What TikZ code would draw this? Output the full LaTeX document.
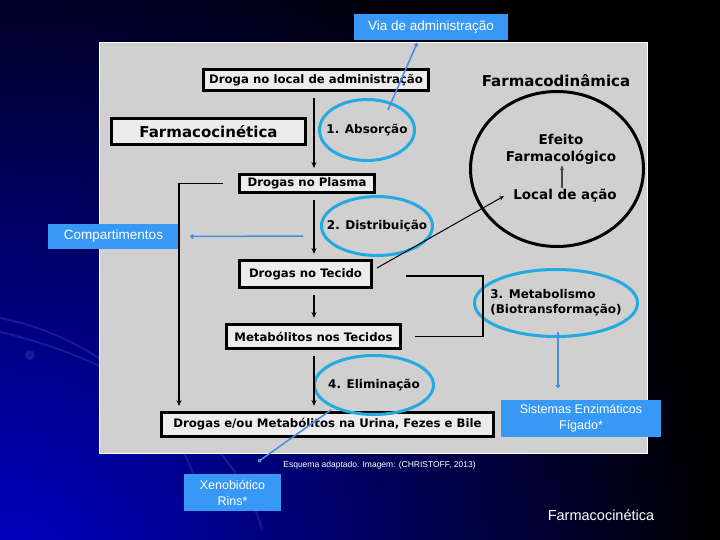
\documentclass[tikz,border=0pt]{standalone}
\usepackage{fontspec}
\setmainfont{DejaVu Sans}
\newfontfamily\labelfont{Liberation Sans}
\usetikzlibrary{shapes.geometric,arrows.meta}
\definecolor{panelgray}{RGB}{208,208,208}
\definecolor{boxgray}{RGB}{236,236,236}
\definecolor{labelblue}{RGB}{55,152,245}
\definecolor{ringblue}{RGB}{35,170,225}
\definecolor{linkblue}{RGB}{70,140,225}
\definecolor{deepblue}{RGB}{0,0,200}
\definecolor{swoosh}{RGB}{25,25,150}
\definecolor{inkgray}{RGB}{70,70,70}
\begin{document}
\begin{tikzpicture}[x=1pt, y=-1pt,
	box/.style={draw=black, fill=boxgray, line width=3pt, inner sep=0pt, font=\fontsize{11.7}{14}\selectfont\bfseries},
	ring/.style={ellipse, draw=ringblue, line width=3pt, inner sep=0pt},
	ringtext/.style={font=\fontsize{12}{15}\selectfont\bfseries, inner sep=0pt},
	tag/.style={fill=labelblue, text=white, inner sep=0pt, align=center, font=\labelfont\fontsize{13.5}{16}\selectfont},
	arr/.style={line width=1.5pt, -{Stealth[length=6pt,width=5pt]}, shorten <=6pt, shorten >=5pt},
	bracket/.style={line width=1.5pt},
	bluelink/.style={draw=linkblue, line width=1.5pt, {Circle[length=4pt]}-}]
	\useasboundingbox (0,0) rectangle (720,540);
	\fill[black] (0,0) rectangle (720,540);
	\begin{scope}
		\clip (0,0) rectangle (720,540);
		\shade[inner color=deepblue, outer color=black] (0,580) circle (720);
		\draw[swoosh, line width=2pt] (0,318) .. controls (110,340) and (185,420) .. (200,500);
		\draw[swoosh, line width=2pt] (0,332) .. controls (120,360) and (235,430) .. (262,530);
		\fill[swoosh] (30,355) circle (5);
	\end{scope}
	\draw[white, fill=panelgray, line width=1pt] (99,43) rectangle (647,453);

	\node[box, minimum width=225pt, minimum height=21pt] (droga)  at (316,80)      {Droga no local de administração};
	\node[box, minimum width=194pt, minimum height=26pt, font=\fontsize{15}{18}\selectfont\bfseries] (farma) at (208.5,131.5) {Farmacocinética};
	\node[box, minimum width=135pt, minimum height=18pt] (plasma) at (307,183.5)   {Drogas no Plasma};
	\node[box, minimum width=132pt, minimum height=27pt] (tecido) at (305.5,274)   {Drogas no Tecido};
	\node[box, minimum width=174pt, minimum height=24pt] (metab)  at (313.5,336.5) {Metabólitos nos Tecidos};
	\node[box, minimum width=332pt, minimum height=24pt] (final)  at (327.5,424.5) {Drogas e/ou Metabólitos na Urina, Fezes e Bile};

	\node[ring, minimum width=95pt,  minimum height=61pt, label={[ringtext]center:1. Absorção}]     (absorb)  at (367,130) {};
	\node[ring, minimum width=111pt, minimum height=59pt, label={[ringtext]center:2. Distribuição}] (distrib) at (377,226) {};
	\node[ring, minimum width=119pt, minimum height=59pt, label={[ringtext]center:4. Eliminação}]   (elimin)  at (374,385) {};
	\node[ring, minimum width=163pt, minimum height=67pt, label={[ringtext, align=left]center:{3. Metabolismo\\(Biotransformação)}}] (metabol) at (556,303) {};

	\node[ellipse, draw=black, line width=3pt, minimum width=173pt, minimum height=155pt] (pd) at (557,169) {};
	\node[font=\fontsize{15}{18}\selectfont\bfseries] (pdtitle) at (556,81) {Farmacodinâmica};
	\node[font=\fontsize{13.5}{17}\selectfont\bfseries, align=center, inner sep=1pt] (efeito) at (561,149) {Efeito\\Farmacológico};
	\node[font=\fontsize{13.5}{17}\selectfont\bfseries, inner sep=1pt] (local) at (565,196) {Local de ação};

	\node[tag, minimum width=154pt, minimum height=26pt] (via)  at (431,27)      {Via de administração};
	\node[tag, minimum width=131pt, minimum height=25pt] (comp) at (113.5,236.5) {Compartimentos};
	\node[tag, minimum width=97pt,  minimum height=37pt, font=\labelfont\fontsize{12.5}{16}\selectfont] (xeno) at (232.5,492.5) {Xenobiótico\\Rins*};
	\node[tag, minimum width=160pt, minimum height=37pt, font=\labelfont\fontsize{12.5}{16}\selectfont] (sist) at (581,418.5)  {Sistemas Enzimáticos\\Fígado*};
	\node[text=white, font=\labelfont\fontsize{8.5}{10}\selectfont] (fonte)  at (379.5,465) {Esquema adaptado. Imagem: (CHRISTOFF, 2013)};
	\node[text=white, font=\labelfont\fontsize{14.5}{16}\selectfont]  (titulo) at (601,515)   {Farmacocinética};

	\coordinate (mcol) at (314,0);
	\coordinate (lcol) at (179,0);
	\coordinate (rcol) at (483,0);
	\draw[arr] (droga.south -| mcol)  -- (plasma.north -| mcol);
	\draw[arr] (plasma.south -| mcol) -- (tecido.north -| mcol);
	\draw[arr] (tecido.south -| mcol) -- (metab.north -| mcol);
	\draw[arr] (metab.south -| mcol)  -- (final.north -| mcol);
	\draw[arr, shorten <=0pt] ([xshift=-15pt]plasma.west) -| (lcol |- final.north);
	\draw[bracket] ([xshift=33pt,yshift=-2pt]tecido.east) -| (rcol |- metab.east) -- ([xshift=13pt]metab.east);
	\draw[line width=1pt, -{Stealth[length=5pt,width=4pt]}] ([xshift=4pt,yshift=6pt]tecido.east) -- ([xshift=-8pt]local.west);
	\draw[inkgray, line width=1.5pt, -{Stealth[length=5pt,width=4pt]}] (local.north -| 562,0) -- (efeito.south -| 562,0);

	\coordinate (viain)  at (388,110);
	\coordinate (compin) at (303,236);
	\coordinate (xenoin) at (331,410);
	\coordinate (sistin) at (558,332);
	\draw[bluelink] ([xshift=-14pt,yshift=-3pt]via.south) -- (viain);
	\draw[bluelink] ([xshift=11pt]comp.east) -- (compin);
	\draw[bluelink] ([xshift=25.5pt,yshift=12pt]xeno.north) -- (xenoin);
	\draw[bluelink] ([xshift=-23pt,yshift=12pt]sist.north) -- (sistin);
\end{tikzpicture}
\end{document}
